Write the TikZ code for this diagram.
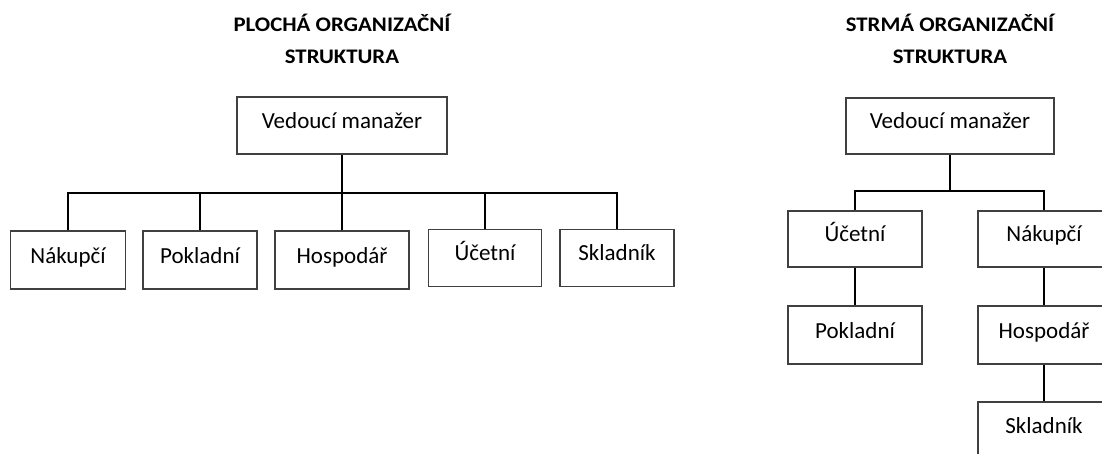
\documentclass[tikz,border=0pt]{standalone}
\usepackage{fontspec}
\setmainfont{Carlito}
\newfontfamily\titlefont{Carlito}[FakeStretch=1.1,BoldFont={Carlito Bold},BoldFeatures={FakeStretch=1.1}]
\begin{document}
\begin{tikzpicture}[x=1pt,y=-1pt,
  box/.style={draw=black!75,line width=1.2pt,inner sep=0pt,text height=15pt,text depth=9pt,font=\fontsize{23}{26}\selectfont},
  conn/.style={draw=black,line width=2pt},
  title/.style={font=\titlefont\bfseries\fontsize{20.7}{31.6}\selectfont,align=center,inner sep=0pt}]
\useasboundingbox (0,0) rectangle (1102,454);
% titles
\node[title,anchor=base] (t1) at (342,63.3) {PLOCHÁ ORGANIZAČNÍ\\STRUKTURA};
\node[title,anchor=base] (t2) at (950,63.3) {STRMÁ ORGANIZAČNÍ\\STRUKTURA};
% flat structure
\node[box,minimum width=210pt,minimum height=57pt] (L0) at (342,125.5) {Vedoucí manažer};
\node[box,minimum width=115pt,minimum height=58pt] (Ln) at (68,260) {Nákupčí};
\node[box,minimum width=114pt,minimum height=58pt] (Lp) at (200,260) {Pokladní};
\node[box,minimum width=134pt,minimum height=58pt] (Lh) at (342,260) {Hospodář};
\node[box,minimum width=113pt,minimum height=57pt] (Lu) at (485,258) {Účetní};
\node[box,minimum width=114pt,minimum height=57pt] (Ls) at (617,258) {Skladník};
\coordinate (Lbus) at (342,193);
\draw[conn] (L0.south) -- (Lbus);
\foreach \n in {Ln,Lp,Lh,Lu,Ls} \draw[conn] (\n.north) |- (Lbus);
% steep structure
\node[box,minimum width=208pt,minimum height=56pt] (R0) at (950,126) {Vedoucí manažer};
\node[box,minimum width=134pt,minimum height=56pt] (Ru) at (855,239) {Účetní};
\node[box,minimum width=132pt,minimum height=56pt] (Rn) at (1044,239) {Nákupčí};
\node[box,minimum width=134pt,minimum height=58pt] (Rp) at (855,335) {Pokladní};
\node[box,minimum width=132pt,minimum height=58pt] (Rh) at (1044,335) {Hospodář};
\node[box,minimum width=132pt,minimum height=56pt] (Rs) at (1044,430) {Skladník};
\coordinate (Rbus) at (950,191);
\draw[conn] (R0.south) -- (Rbus);
\draw[conn] (Ru.north) |- (Rbus);
\draw[conn] (Rn.north) |- (Rbus);
\draw[conn] (Ru.south) -- (Rp.north);
\draw[conn] (Rn.south) -- (Rh.north);
\draw[conn] (Rh.south) -- (Rs.north);
\end{tikzpicture}
\end{document}
